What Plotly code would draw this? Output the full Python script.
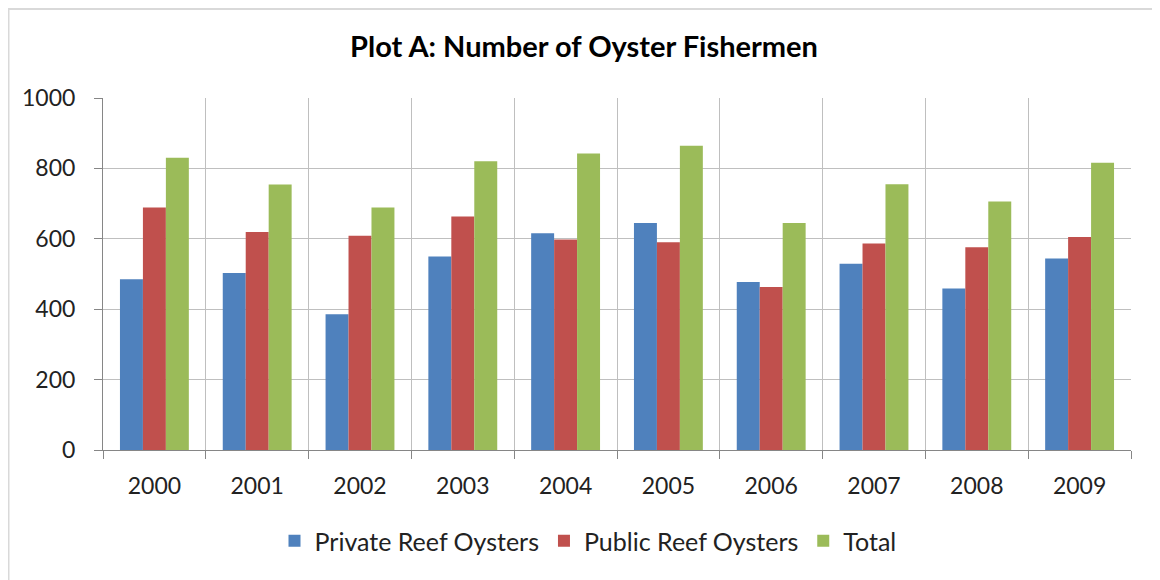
import plotly.graph_objects as go

years = ["2000", "2001", "2002", "2003", "2004", "2005", "2006", "2007", "2008", "2009"]
private_reef = [485, 503, 386, 550, 616, 645, 477, 529, 459, 544]
public_reef = [689, 619, 609, 663, 598, 590, 463, 587, 576, 605]
total = [830, 754, 689, 820, 842, 864, 645, 755, 706, 816]

series_names = ["Private Reef Oysters", "Public Reef Oysters", "Total"]
colors = ["#4F81BD", "#C0504D", "#9BBB59"]

FONT = "Lato"
xpos = list(range(len(years)))

W, H = 1152, 572
L, R, T, B = 95, 29, 90, 130
PW, PH = W - L - R, H - T - B

fig = go.Figure()
for name, vals, col in zip(series_names, [private_reef, public_reef, total], colors):
    fig.add_trace(go.Bar(x=xpos, y=vals, name=name, marker=dict(color=col, line=dict(width=0))))

boundaries = [i - 0.5 for i in range(len(years) + 1)]

fig.update_layout(
    width=W, height=H,
    margin=dict(l=L, r=R, t=T, b=B),
    paper_bgcolor="white", plot_bgcolor="white",
    barmode="group", bargap=0.33, bargroupgap=0,
    title=dict(text="<b>Plot A: Number of Oyster Fishermen</b>", x=0.5, xanchor="center",
               y=1 - 39 / H, yanchor="middle", font=dict(family=FONT, size=29, color="black")),
    font=dict(family=FONT, size=23, color="#222"),
    legend=dict(orientation="h", x=(580 - L) / PW, xanchor="center", y=(H - B - 533) / PH, yanchor="middle",
                font=dict(family=FONT, size=25, color="#222"), traceorder="normal"),
    xaxis=dict(range=[-0.5, len(years) - 0.5], tickmode="array", tickvals=xpos, ticktext=years,
               showgrid=False, ticks="", showline=True, linecolor="#868686", linewidth=1,
               ticklabelstandoff=15, zeroline=False,
               minor=dict(tickmode="array", tickvals=boundaries, showgrid=True, gridcolor="#BFBFBF",
                          gridwidth=1, ticks="outside", ticklen=8, tickcolor="#868686")),
    yaxis=dict(range=[0, 1000], dtick=200, showgrid=True, gridcolor="#BFBFBF", gridwidth=1,
               showline=True, linecolor="#868686", ticks="outside", ticklen=8, tickcolor="#868686",
               zeroline=False, ticklabelstandoff=14),
)

fig.add_shape(type="rect", xref="paper", yref="paper",
              x0=(0 - L) / PW, x1=(W - 1 - L) / PW, y0=(H - B - (H + 20)) / PH, y1=(H - B - 0.5) / PH,
              line=dict(color="#D9D9D9", width=3), fillcolor="rgba(0,0,0,0)", layer="below")

fig.write_html("out.html")
